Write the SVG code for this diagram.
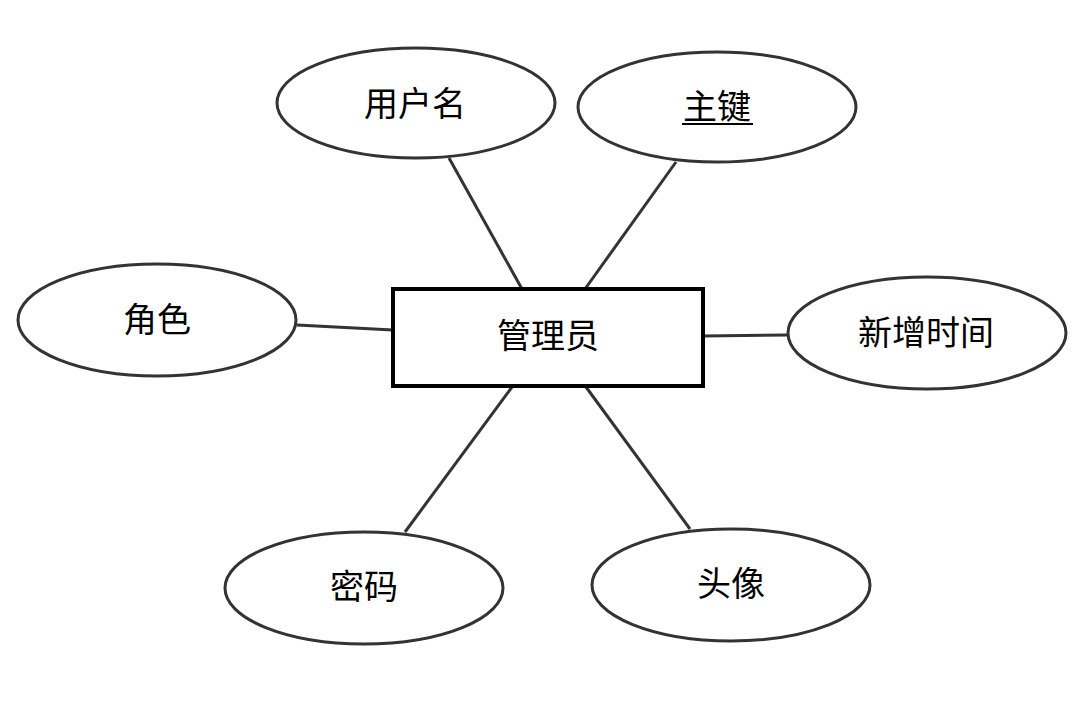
<svg xmlns="http://www.w3.org/2000/svg" width="1092" height="720" viewBox="0 0 1092 720">
<style>
.attr{fill:#fff;stroke:#333;stroke-width:3}
.ent{fill:#fff;stroke:#000;stroke-width:4}
.conn line{stroke:#333;stroke-width:3}
text{font-family:"Noto Sans CJK SC","Noto Sans",sans-serif;font-size:34px;fill:#000;text-anchor:middle;dominant-baseline:central}
</style>
<rect width="1092" height="720" fill="#fff"/>
<g id="connectors" class="conn">
<line x1="449" y1="158" x2="522" y2="289"/>
<line x1="676" y1="162" x2="585" y2="289"/>
<line x1="297" y1="325" x2="393" y2="330"/>
<line x1="703" y1="336" x2="787" y2="335"/>
<line x1="512" y1="387" x2="405" y2="532"/>
<line x1="586" y1="387" x2="690" y2="529"/>
</g>
<g id="entity-admin">
<rect class="ent" x="393" y="289" width="310" height="97"/>
<text x="548" y="333">管理员</text>
</g>
<g id="attr-username">
<ellipse class="attr" cx="416" cy="103" rx="139" ry="55"/>
<text x="415" y="101">用户名</text>
</g>
<g id="attr-key">
<ellipse class="attr" cx="717" cy="107" rx="139" ry="55"/>
<text x="717" y="104">主键</text>
<line x1="682" y1="124" x2="753" y2="124" stroke="#000" stroke-width="2"/>
</g>
<g id="attr-role">
<ellipse class="attr" cx="157" cy="320" rx="139" ry="56"/>
<text x="157" y="317">角色</text>
</g>
<g id="attr-created">
<ellipse class="attr" cx="927" cy="333" rx="139" ry="56"/>
<text x="926" y="330">新增时间</text>
</g>
<g id="attr-password">
<ellipse class="attr" cx="364" cy="588" rx="139" ry="56"/>
<text x="364" y="584">密码</text>
</g>
<g id="attr-avatar">
<ellipse class="attr" cx="731" cy="585" rx="139" ry="56"/>
<text x="731" y="581">头像</text>
</g>
</svg>
